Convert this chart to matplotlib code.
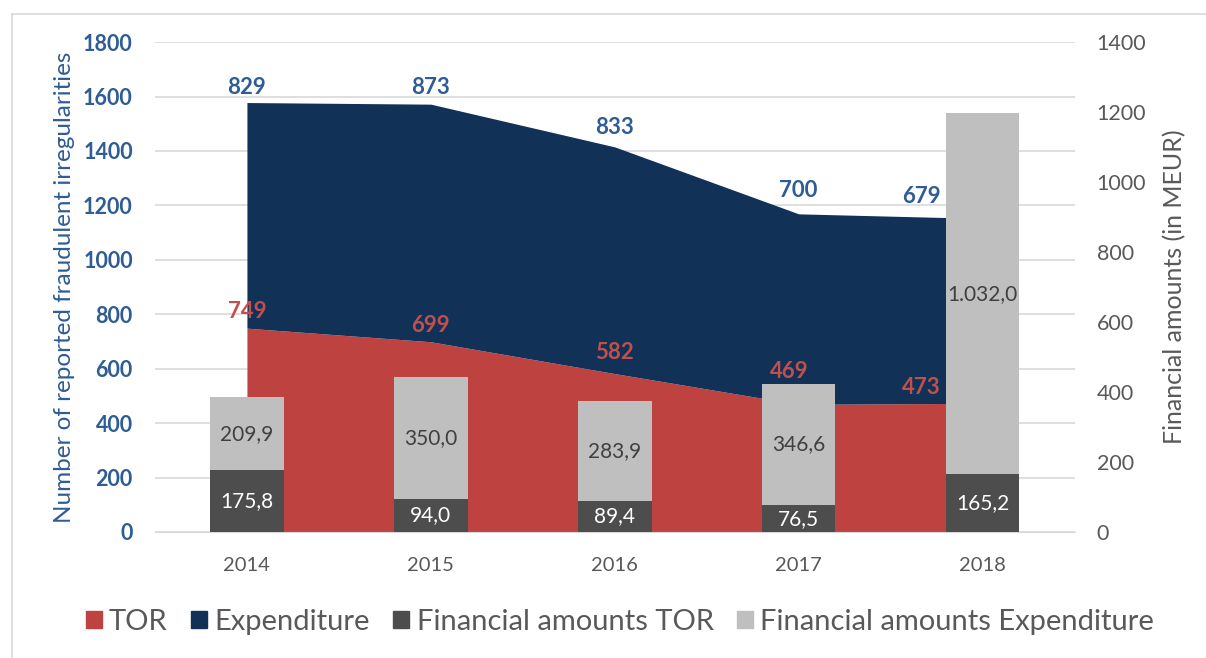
import numpy as np
import matplotlib.pyplot as plt
from matplotlib.patches import Patch

plt.rcParams["font.family"] = ["Lato", "DejaVu Sans"]

# ---------------------------------------------------------------------
# Data
# ---------------------------------------------------------------------
YEARS = ["2014", "2015", "2016", "2017", "2018"]
TOR_COUNT = [749, 699, 582, 469, 473]
EXP_COUNT = [829, 873, 833, 700, 679]
FIN_TOR = [175.8, 94.0, 89.4, 76.5, 165.2]
FIN_EXP = [209.9, 350.0, 283.9, 346.6, 1032.0]

C_TOR = "#BE4340"
C_EXP = "#123156"
C_FIN_TOR = "#4D4D4D"
C_FIN_EXP = "#BFBFBF"
C_BLUE_TXT = "#2E5C94"
C_RED_TXT = "#C0504D"
C_GRAY_TXT = "#595959"

# label offsets (points) for the area labels, as placed in the original
TOR_LBL_DY = [12, 12, 15, 24, 11]
EXP_LBL_DY = [11, 12, 14, 17, 16]


def eu_fmt(v):
    s = f"{v:,.1f}"
    return s.replace(",", "X").replace(".", ",").replace("X", ".")


x = np.arange(len(YEARS))
tor = np.array(TOR_COUNT)
total = tor + np.array(EXP_COUNT)

fig = plt.figure(figsize=(12.06, 6.58), dpi=100)
ax = fig.add_axes([0.1285, 0.1915, 0.7625, 0.7445])

# stacked area (left axis)
ax.fill_between(x, 0, tor, color=C_TOR, lw=0, zorder=2)
ax.fill_between(x, tor, total, color=C_EXP, lw=0, zorder=2)
ax.set_ylim(0, 1800)
ax.set_xlim(-0.5, len(YEARS) - 0.5)
ax.set_yticks(np.arange(0, 1801, 200))
ax.yaxis.grid(True, color="#D9D9D9", lw=1.2, zorder=0)
ax.set_axisbelow(True)
for s in ax.spines.values():
    s.set_visible(False)
ax.spines["bottom"].set_visible(True)
ax.spines["bottom"].set_color("#D9D9D9")
ax.tick_params(axis="y", length=0, pad=16, labelsize=15.5, labelcolor=C_BLUE_TXT)
for lab in ax.get_yticklabels():
    lab.set_fontweight("bold")
ax.set_xticks(x)
ax.set_xticklabels(YEARS)
ax.tick_params(axis="x", length=0, pad=18, labelsize=14.5, labelcolor=C_GRAY_TXT)
ax.set_ylabel("Number of reported fraudulent irregularities", color=C_BLUE_TXT,
              fontsize=17.5, labelpad=6)

# stacked bars (right axis)
ax2 = ax.twinx()
w = 0.4
ax2.bar(x, FIN_TOR, w, color=C_FIN_TOR, zorder=3)
ax2.bar(x, FIN_EXP, w, bottom=FIN_TOR, color=C_FIN_EXP, zorder=3)
ax2.set_ylim(0, 1400)
ax2.set_yticks(np.arange(0, 1401, 200))
for s in ax2.spines.values():
    s.set_visible(False)
ax2.tick_params(axis="y", length=0, pad=16, labelsize=15.5, labelcolor=C_GRAY_TXT)
ax2.set_ylabel("Financial amounts (in MEUR)", color=C_GRAY_TXT, fontsize=18, labelpad=12)

for i in range(len(YEARS)):
    ax2.text(x[i], FIN_TOR[i] / 2, eu_fmt(FIN_TOR[i]), ha="center", va="center",
             color="white", fontsize=15, zorder=5)
    ax2.text(x[i], FIN_TOR[i] + FIN_EXP[i] / 2, eu_fmt(FIN_EXP[i]), ha="center", va="center",
             color="#404040", fontsize=15, zorder=5)

# area labels, drawn on top of the bars
for i in range(len(YEARS)):
    ha = "center"
    xi = x[i]
    if i == len(YEARS) - 1:
        xi = x[i] - 0.23
        ha = "right"
    if i == 3:
        xi = x[i] - 0.05
    ax2.annotate(str(TOR_COUNT[i]), (xi, tor[i]), xycoords=ax.transData,
                 xytext=(0, TOR_LBL_DY[i]), textcoords="offset points",
                 ha=ha, va="center", color=C_RED_TXT, fontsize=16, fontweight="bold", zorder=6)
    ax2.annotate(str(EXP_COUNT[i]), (xi if i == 4 else x[i], total[i]), xycoords=ax.transData,
                 xytext=(0, EXP_LBL_DY[i]), textcoords="offset points",
                 ha=ha, va="center", color=C_BLUE_TXT, fontsize=16, fontweight="bold", zorder=6)

handles = [Patch(color=C_TOR), Patch(color=C_EXP), Patch(color=C_FIN_TOR), Patch(color=C_FIN_EXP)]
labels = ["TOR", "Expenditure", "Financial amounts TOR", "Financial amounts Expenditure"]
fig.legend(handles, labels, loc="center", bbox_to_anchor=(0.514, 0.055), ncol=4, frameon=False,
           fontsize=21, handlelength=0.55, handleheight=0.55, handletextpad=0.25,
           columnspacing=0.8, labelcolor=C_GRAY_TXT)

# screenshot border (top and left)
fig.add_artist(plt.Line2D([0.0100, 1.0], [0.978, 0.978], color="#D9D9D9", lw=1.2))
fig.add_artist(plt.Line2D([0.0100, 0.0100], [0.0, 0.978], color="#D9D9D9", lw=1.2))

fig.savefig("out.png", dpi=100)
